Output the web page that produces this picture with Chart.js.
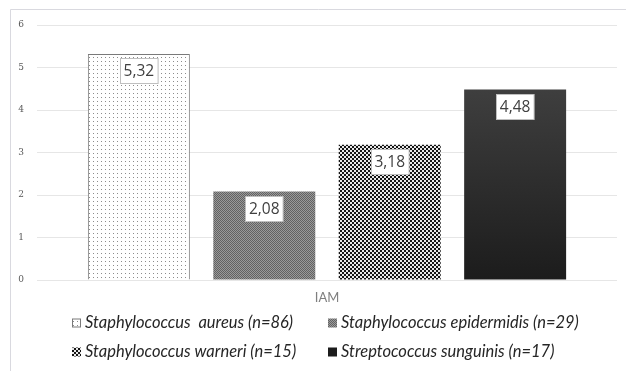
<!DOCTYPE html>
<html>
<head>
<meta charset="utf-8">
<script src="https://cdn.jsdelivr.net/npm/chart.js@4/dist/chart.umd.min.js"></script>
<style>
  html, body { margin: 0; padding: 0; background: #fff; }
  #wrap { position: relative; width: 626px; height: 371px; }
</style>
</head>
<body>
<div id="wrap"><canvas id="c" width="626" height="371"></canvas></div>
<script>
// Category and series
const categories = ['IAM'];
const seriesNames = [
  'Staphylococcus  aureus (n=86)',
  'Staphylococcus epidermidis (n=29)',
  'Staphylococcus warneri (n=15)',
  'Streptococcus sunguinis (n=17)'
];
const seriesValues = [5.32, 2.08, 3.18, 4.48];
const yTicks = [0, 1, 2, 3, 4, 5, 6];

// Fill patterns
function makePattern(size, draw) {
  const cv = document.createElement('canvas');
  cv.width = size; cv.height = size;
  const g = cv.getContext('2d');
  draw(g);
  return g.createPattern(cv, 'repeat');
}
const dotted = makePattern(4, g => {
  g.fillStyle = '#ffffff'; g.fillRect(0, 0, 4, 4);
  g.fillStyle = '#8c8c8c'; g.fillRect(1, 1, 1, 1);
});
const fineChecker = makePattern(2, g => {
  g.fillStyle = '#9a9a9a'; g.fillRect(0, 0, 2, 2);
  g.fillStyle = '#626262'; g.fillRect(0, 0, 1, 1); g.fillRect(1, 1, 1, 1);
});
const bigChecker = makePattern(4, g => {
  g.fillStyle = '#141414'; g.fillRect(0, 0, 4, 4);
  g.fillStyle = '#e8e8e8'; g.fillRect(0, 0, 2, 2); g.fillRect(2, 2, 2, 2);
});
function darkGradient(ctx) {
  const area = ctx.chart.chartArea;
  if (!area) return '#2a2a2a';
  const g = ctx.chart.ctx.createLinearGradient(0, area.top, 0, area.bottom);
  g.addColorStop(0, '#4a4a4a');
  g.addColorStop(1, '#1c1c1c');
  return g;
}
const fills = [dotted, fineChecker, bigChecker, darkGradient];
const borders = ['#7a7a7a', 'rgba(0,0,0,0)', 'rgba(0,0,0,0)', 'rgba(0,0,0,0)'];

// Frame around the chart
const framePlugin = {
  id: 'frame',
  beforeDraw(chart) {
    const c = chart.ctx;
    c.save();
    c.fillStyle = '#ffffff';
    c.fillRect(0, 0, chart.width, chart.height);
    c.strokeStyle = '#d9d9df';
    c.lineWidth = 1;
    c.beginPath();
    c.moveTo(10.5, chart.height);
    c.lineTo(10.5, 9.5);
    c.lineTo(chart.width, 9.5);
    c.stroke();
    c.restore();
  }
};

// Value boxes inside the top of each bar
const valueBoxes = {
  id: 'valueBoxes',
  afterDatasetsDraw(chart) {
    const c = chart.ctx;
    c.save();
    c.font = '15.5px "Open Sans", sans-serif';
    c.textAlign = 'center';
    c.textBaseline = 'middle';
    chart.data.datasets.forEach((ds, i) => {
      const meta = chart.getDatasetMeta(i);
      meta.data.forEach((bar, j) => {
        const txt = ds.data[j].toFixed(2).replace('.', ',');
        const w = c.measureText(txt).width + 7;
        const h = 25;
        const x = Math.round(bar.x - w / 2) + 0.5;
        const y = Math.round(bar.y + 4) + 0.5;
        c.fillStyle = '#ffffff';
        c.fillRect(x, y, w, h);
        c.strokeStyle = '#bfbfbf';
        c.lineWidth = 1;
        c.strokeRect(x, y, w, h);
        c.fillStyle = '#404040';
        c.fillText(txt, bar.x, y + h / 2 + 1);
      });
    });
    c.restore();
  }
};

// Two-column legend below the axis
const gridLegend = {
  id: 'gridLegend',
  afterDraw(chart) {
    const c = chart.ctx;
    const cols = [72, 328];
    const rows = [323, 352];
    c.save();
    c.font = 'italic 16.5px Lato, "Open Sans", sans-serif';
    c.textBaseline = 'middle';
    c.textAlign = 'left';
    chart.data.datasets.forEach((ds, i) => {
      const bx = cols[i % 2];
      const cy = rows[Math.floor(i / 2)];
      const meta = chart.getDatasetMeta(i);
      const el = meta.data[0];
      const fill = el && el.options ? el.options.backgroundColor : '#000';
      c.fillStyle = fill;
      c.fillRect(bx, cy - 4.5, 9, 9);
      if (ds.borderWidth) {
        c.strokeStyle = ds.borderColor;
        c.lineWidth = 1;
        c.strokeRect(bx + 0.5, cy - 4, 8, 8);
      }
      c.fillStyle = '#262626';
      c.fillText(ds.label, bx + 13, cy);
    });
    c.restore();
  }
};

new Chart(document.getElementById('c'), {
  type: 'bar',
  data: {
    labels: categories,
    datasets: seriesNames.map((name, i) => ({
      label: name,
      data: [seriesValues[i]],
      backgroundColor: fills[i],
      borderColor: borders[i],
      borderWidth: i === 0 ? 1 : 0,
      categoryPercentage: 0.865,
      barPercentage: 0.813
    }))
  },
  options: {
    responsive: false,
    animation: false,
    devicePixelRatio: 1,
    layout: { padding: { left: 10, right: 9, top: 25, bottom: 63 } },
    plugins: {
      tooltip: { enabled: false },
      legend: { display: false }
    },
    scales: {
      x: {
        afterFit(scale) { scale.height = 28; },
        grid: { display: false, drawTicks: false },
        border: { display: false },
        ticks: {
          color: '#7f7f7f',
          padding: 10,
          font: { family: 'Lato, "Open Sans", sans-serif', size: 13 }
        }
      },
      y: {
        min: 0,
        max: 6,
        afterBuildTicks(scale) { scale.ticks = yTicks.map(v => ({ value: v })); },
        afterFit(scale) { scale.width = 27; },
        grid: { color: '#e6e6e6', drawTicks: false },
        border: { display: false },
        ticks: {
          color: '#595959',
          padding: 13,
          font: { family: '"DejaVu Serif", serif', size: 9 }
        }
      }
    }
  },
  plugins: [framePlugin, valueBoxes, gridLegend]
});
</script>
</body>
</html>
